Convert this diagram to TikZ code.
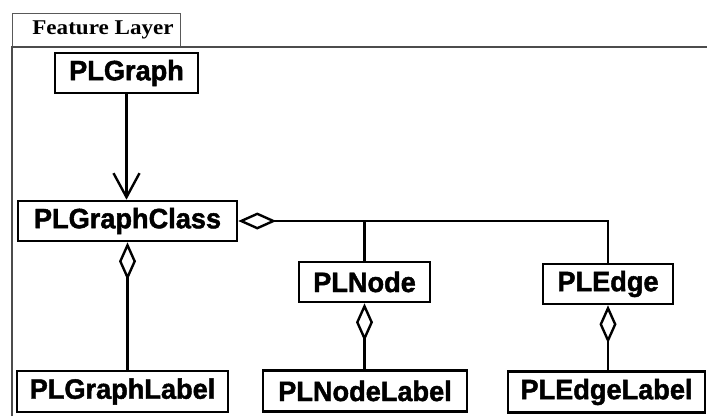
\documentclass[tikz,border=0pt]{standalone}
\usepackage{fontspec}
\setmainfont{Liberation Serif}
\newfontfamily\hvfont{Liberation Sans}[BoldFeatures={FakeBold=1.6}]
\usetikzlibrary{arrows.meta}
\newcommand{\cls}[1]{\scalebox{0.97}[1]{\hvfont\fontsize{28}{30}\selectfont\bfseries #1}}
\begin{document}
\begin{tikzpicture}[x=1pt,y=-1pt,
  clsbox/.style={draw, line width=2.6pt, inner sep=0pt, minimum height=40pt, fill=white},
  conn/.style={line width=2.6pt},
  aggr/.style={conn, {Diamond[open,length=38pt,width=17pt,line width=2.4pt]}-},
  assoc/.style={conn, -{Straight Barb[length=24pt,width=26pt,line width=2.4pt]}}]
\useasboundingbox (0,0) rectangle (707,416);
\fill[white] (0,0) rectangle (707,416);
% frame
\draw[gray!70!black, line width=0.9pt] (12,47) -- (12,13) -- (180,13) -- (180,47);
\draw[gray!60!black, line width=2pt] (12,416) -- (12,47) -- (707,47);
\node (tab) at (103,30) {\scalebox{1.1}[1]{\fontsize{21}{24}\selectfont\bfseries Feature Layer}};
% classes
\node[clsbox, minimum width=143pt] (g) at (126.5,73) {\cls{PLGraph}};
\node[clsbox, minimum width=219pt] (gc) at (127.5,221) {\cls{PLGraphClass}};
\node[clsbox, minimum width=131pt] (n) at (364.5,282) {\cls{PLNode}};
\node[clsbox, minimum width=130pt] (e) at (608,284) {\cls{PLEdge}};
\node[clsbox, minimum width=211pt, minimum height=41pt] (gl) at (122.5,391.5) {\cls{PLGraphLabel}};
\node[clsbox, minimum width=204pt, minimum height=41pt] (nl) at (365,391) {\cls{PLNodeLabel}};
\node[clsbox, minimum width=197pt, minimum height=41pt] (el) at (606.5,392) {\cls{PLEdgeLabel}};
% connectors
\draw[assoc] (g.south) -- (g.south |- gc.north);
\draw[aggr] (gc.east) -| (e.north);
\draw[conn] (gc.east -| n.north) -- (n.north);
\draw[aggr] (gc.south) -- (gc.south |- gl.north);
\draw[aggr] (n.south) -- (n.south |- nl.north);
\draw[aggr] (e.south) -- (e.south |- el.north);
\end{tikzpicture}
\end{document}
